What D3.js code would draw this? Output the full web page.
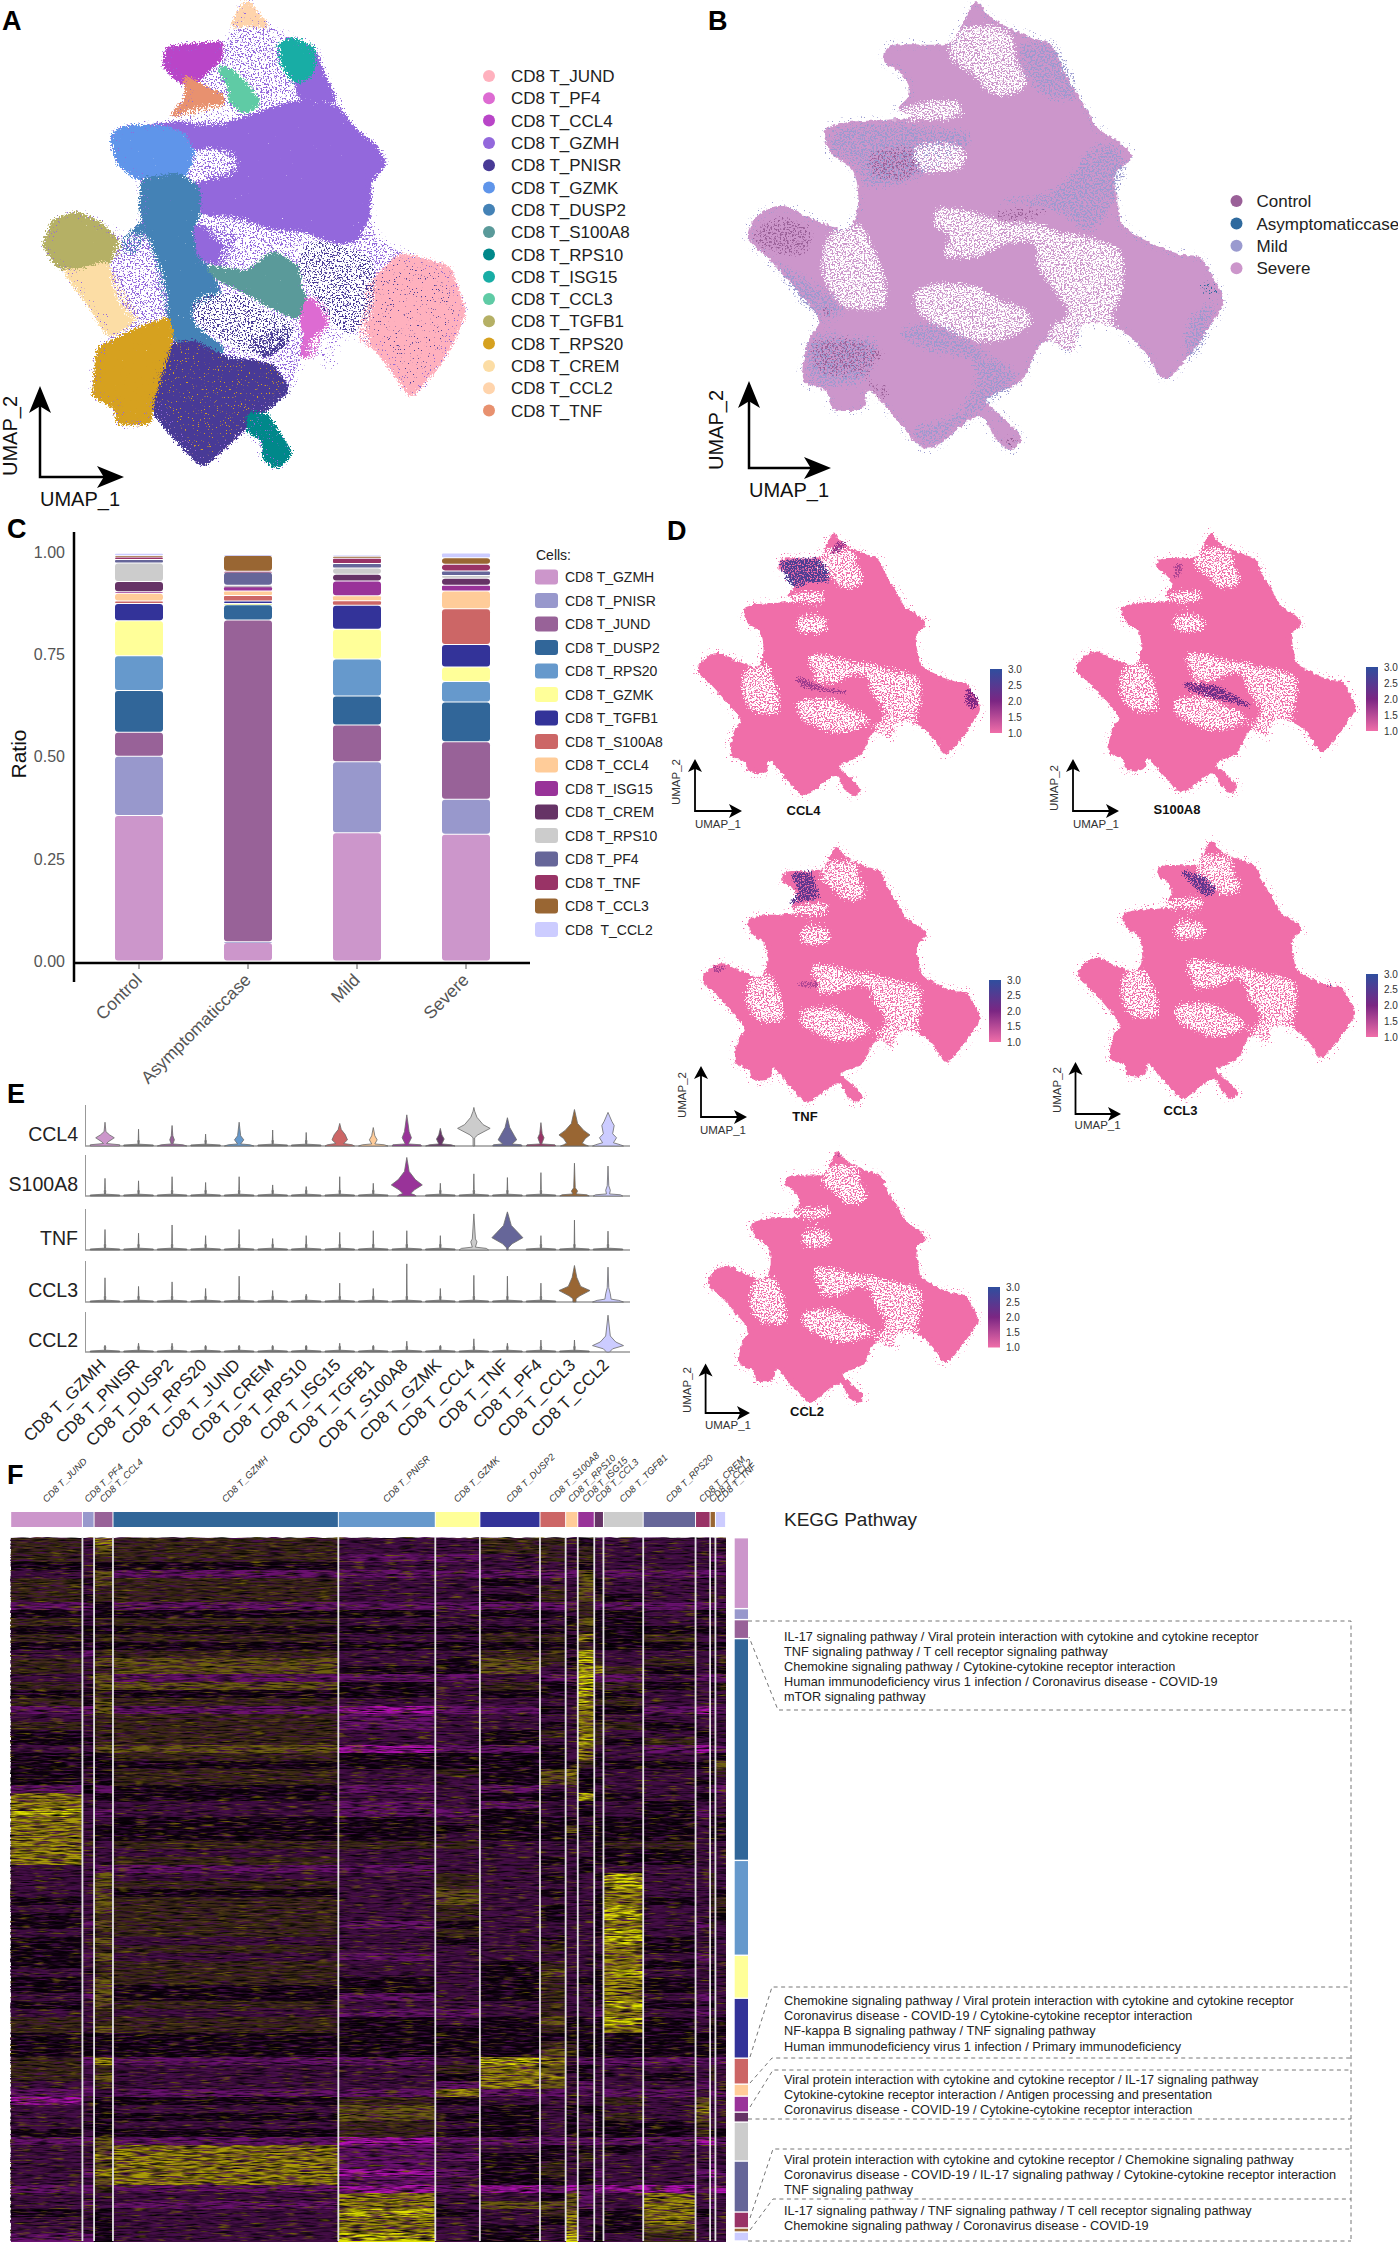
<!DOCTYPE html>
<html>
<head>
<meta charset="UTF-8">
<title>CD8 T cell atlas figure</title>
<script src="https://cdnjs.cloudflare.com/ajax/libs/d3/7.9.0/d3.min.js"></script>
<style>
    body { margin: 0; background: #fff; }
    text { font-family: "Liberation Sans", Arial, sans-serif; }
</style>
</head>
<body>
<div id="fig"></div>
<script>
// ---------- data ----------

// panel A/B/D embedding, outline and cluster regions in UMAP plot units
const umapOutline = [[552,10],[575,50],[610,85],[660,120],[700,145],[725,230],[760,320],[790,400],[830,440],[857,490],[825,540],[830,640],[840,700],[900,760],[950,790],[990,800],[1015,860],[1035,935],[1010,1010],[975,1090],[920,1175],[890,1110],[850,1040],[810,1010],[760,1010],[740,1090],[700,1060],[680,1065],[640,1180],[570,1240],[600,1290],[640,1360],[620,1395],[590,1360],[560,1290],[455,1390],[400,1310],[340,1210],[330,1265],[270,1265],[260,1215],[215,1180],[225,1050],[245,1000],[200,900],[150,810],[105,735],[125,670],[170,640],[230,680],[300,710],[320,640],[310,530],[270,480],[255,410],[290,385],[370,375],[420,365],[400,340],[420,300],[420,270],[400,225],[372,195],[380,150],[500,135],[520,95]];

const umapHoles = [
    [[530,90],[605,95],[625,140],[630,200],[650,260],[600,300],[575,280],[555,240],[520,200],[500,180],[505,130]],
    [[400,350],[500,315],[525,345],[505,368],[420,370]],
    [[430,470],[480,445],[525,470],[530,505],[490,535],[445,525]],
    [[480,650],[540,660],[600,690],[660,695],[700,720],[640,750],[600,760],[540,800],[490,790],[510,730],[470,700]],
    [[690,730],[770,740],[830,780],[840,860],[820,960],[780,1000],[740,960],[700,880],[670,800]],
    [[270,730],[320,700],[350,780],[375,900],[370,950],[300,950],[250,830]],
    [[430,920],[470,885],[550,890],[590,930],[640,960],[660,990],[620,1040],[560,1060],[500,1020],[450,980]],
    [[715,1000],[810,1000],[830,1030],[760,1090],[700,1110],[690,1070]]
];

const umapNames = ["CD8 T_JUND","CD8 T_PF4","CD8 T_CCL4","CD8 T_GZMH","CD8 T_PNISR","CD8 T_GZMK","CD8 T_DUSP2","CD8 T_S100A8","CD8 T_RPS10","CD8 T_ISG15","CD8 T_CCL3","CD8 T_TGFB1","CD8 T_RPS20","CD8 T_CREM","CD8 T_CCL2","CD8 T_TNF"];
const umapColors = ["#ffb1be","#dd6bd2","#b945c8","#9368dc","#483a96","#5f95ea","#4482b6","#5a9a9a","#00888a","#18ada5","#5fcba5","#b5b065","#d6a11f","#fcdda5","#ffd4ac","#e8916f"];

const jundShape = [[825,860],[900,765],[960,785],[1005,805],[1040,935],[1015,1015],[980,1095],[920,1185],[885,1115],[845,1045],[805,1015],[820,930]];
const pf4Shape = [[690,895],[725,915],[735,960],[715,1000],[705,1065],[675,1070],[685,1000],[675,960]];
const ccl4Shape = [[367,195],[375,145],[430,135],[500,130],[495,172],[455,218],[432,260],[400,238]];
const gzmhShape = [[300,385],[420,365],[520,370],[640,315],[700,300],[755,325],[795,395],[835,435],[862,490],[830,535],[825,640],[800,715],[760,730],[690,695],[600,685],[540,655],[480,645],[435,625],[435,560],[520,515],[535,470],[480,445],[420,445],[410,400],[350,400]];
const gzmhLobe = [[430,675],[525,715],[505,795],[435,775]];
const gzmhBand = [[700,145],[725,230],[750,305],[680,305],[660,240],[690,200]];
const pnisrShape = [[380,1035],[430,1025],[500,1075],[560,1085],[605,1095],[645,1170],[575,1245],[455,1395],[395,1315],[335,1215],[345,1120]];
const pnisrWing = [[555,1030],[640,985],[645,1020],[595,1065]];
const gzmkShape = [[250,410],[285,380],[360,380],[410,405],[435,470],[405,535],[340,535],[310,535],[265,485]];
const dusp2Shape = [[320,540],[400,525],[445,570],[445,640],[425,690],[440,780],[470,810],[490,880],[440,910],[420,950],[440,990],[500,1050],[480,1070],[420,1050],[385,1010],[370,900],[350,780],[325,680],[315,620]];
const dusp2Bridge = [[270,740],[320,670],[340,690],[290,760]];
const s100a8Shape = [[465,800],[560,820],[610,755],[670,810],[670,870],[700,935],[660,950],[590,905],[550,870],[490,835]];
const rps10Shape = [[560,1240],[595,1245],[625,1310],[650,1360],[620,1400],[590,1370],[595,1320],[555,1290]];
const isg15Shape = [[620,140],[655,118],[700,145],[705,180],[695,225],[665,245],[630,200]];
const ccl3Shape = [[490,200],[525,220],[560,270],[580,310],[550,335],[515,300],[515,255]];
const tgfb1Shape = [[100,735],[120,665],[170,640],[225,675],[270,740],[235,795],[180,825],[130,795]];
const rps20Shape = [[220,1050],[300,995],[375,955],[385,1010],[355,1130],[340,1210],[335,1270],[265,1270],[260,1220],[210,1185]];
const cremShape = [[145,810],[180,815],[235,790],[275,880],[305,950],[260,995],[245,1005],[195,900]];
const ccl2Shape = [[552,5],[577,50],[600,80],[550,70],[520,80]];
const tnfShape = [[415,230],[450,262],[495,288],[500,308],[440,335],[385,347],[420,300]];

const clusterShapes = [
    [jundShape, 0], [gzmhShape, 3], [gzmhLobe, 3], [gzmhBand, 3], [gzmkShape, 5], [dusp2Shape, 6], [dusp2Bridge, 6],
    [s100a8Shape, 7], [pf4Shape, 1], [ccl4Shape, 2], [pnisrShape, 4], [pnisrWing, 4], [rps10Shape, 8],
    [isg15Shape, 9], [ccl3Shape, 10], [tgfb1Shape, 11], [rps20Shape, 12], [cremShape, 13], [ccl2Shape, 14], [tnfShape, 15]
];

// panel B
const conditionNames = ["Control","Asymptomaticcase","Mild","Severe"];
const conditionColors = ["#9a6098","#2f6a9e","#9a9acf","#cc96cb"];
const mildRegions = [
    [[630,144],[700,134],[753,313],[692,313],[649,241]],
    [[259,412],[359,376],[498,396],[550,417],[481,520],[341,592],[306,499],[271,489]],
    [[577,623],[708,582],[795,437],[847,489],[812,664],[777,726],[708,664]],
    [[394,1035],[473,994],[578,1097],[639,1169],[525,1313],[456,1390],[421,1323],[508,1282],[551,1138],[464,1097]],
    [[216,1169],[272,1210],[342,1169],[360,1055],[299,1035],[229,1045]],
    [[953,1035],[1005,932],[1022,932],[996,1076],[961,1128]],
    [[150,810],[240,880],[300,960],[250,990]]
];
const controlRegions = [
    [[569,672],[621,641],[708,651],[656,692],[613,697]],
    [[350,464],[429,454],[446,536],[376,577],[333,515]],
    [[229,1055],[325,1045],[377,1096],[351,1148],[264,1179],[225,1127]],
    [[332,1189],[385,1189],[385,1241],[359,1241]],
    [[107,741],[159,664],[238,716],[220,798],[159,798]],
    [[603,1344],[642,1354],[629,1395],[594,1375]],
    [[240,931],[283,962],[266,993],[244,983]]
];
const asymptomaticRegions = [[[1000,862],[1035,903],[1026,934],[982,903]]];

// panel C, stacked ratio per condition
const stackNames = ["CD8 T_GZMH","CD8 T_PNISR","CD8 T_JUND","CD8 T_DUSP2","CD8 T_RPS20","CD8 T_GZMK","CD8 T_TGFB1","CD8 T_S100A8","CD8 T_CCL4","CD8 T_ISG15","CD8 T_CREM","CD8 T_RPS10","CD8 T_PF4","CD8 T_TNF","CD8 T_CCL3","CD8\u00a0 T_CCL2"];
const stackColors = ["#cc96cb","#9898cc","#986298","#316699","#6699cc","#ffff99","#333399","#cc6666","#ffcc99","#993399","#663366","#cccccc","#666699","#993366","#996633","#ccccff"];
const controlRatio = [.356,.145,.059,.102,.085,.086,.042,.006,.019,.004,.025,.045,.009,.006,.003,.006];
const asymptomaticRatio = [.045,.002,.788,.037,.002,.001,.006,.014,.011,.010,.002,.002,.032,.002,.039,.002];
const mildRatio = [.314,.174,.090,.071,.090,.073,.059,.011,.012,.036,.017,.015,.011,.013,.005,.003];
const severeRatio = [.310,.086,.141,.097,.050,.036,.055,.087,.044,.014,.017,.007,.011,.016,.016,.012];
const ratioTable = [controlRatio, asymptomaticRatio, mildRatio, severeRatio];
const ratioTicks = [0, .25, .5, .75, 1];

// panel D, expression hot spots as [value, region]
const featureGenes = ["CCL4","S100A8","TNF","CCL3","CCL2"];
const ccl4Hot = [
    [2.6, [[376,155],[492,136],[531,202],[539,268],[461,268],[438,296],[399,258]]],
    [1.8, [[570,52],[601,61],[539,127]]],
    [1.7, [[428,763],[521,829],[598,838],[583,856],[475,829],[436,800]]],
    [2.0, [[995,820],[1030,900],[1015,940],[985,890]]]
];
const s100a8Hot = [
    [2.2, [[458,804],[568,823],[693,938],[615,909],[489,852]]],
    [1.6, [[431,175],[462,175],[431,260]]]
];
const tnfHot = [
    [2.4, [[402,151],[465,142],[497,283],[386,321],[433,264]]],
    [1.6, [[133,660],[188,650],[148,690]]],
    [1.6, [[425,745],[497,736],[481,775],[433,766]]]
];
const ccl3Hot = [
    [2.4, [[450,170],[521,198],[568,274],[536,311],[489,236]]],
    [2.6, [[936,778],[967,788],[944,797]]]
];
const ccl2Hot = [
    [1.4, [[552,10],[565,45],[540,45]]]
];
const featureHot = [ccl4Hot, s100a8Hot, tnfHot, ccl3Hot, ccl2Hot];
const colorbarTicks = [1, 1.5, 2, 2.5, 3];

// panel E, violin tops per cluster for each gene
const violinClusters = ["CD8 T_GZMH","CD8 T_PNISR","CD8 T_DUSP2","CD8 T_RPS20","CD8 T_JUND","CD8 T_CREM","CD8 T_RPS10","CD8 T_ISG15","CD8 T_TGFB1","CD8 T_S100A8","CD8 T_GZMK","CD8 T_CCL4","CD8 T_TNF","CD8 T_PF4","CD8 T_CCL3","CD8 T_CCL2"];
const violinGenes = ["CCL4","S100A8","TNF","CCL3","CCL2"];
const ccl4Tops = [.58,.41,.50,.29,.58,.39,.33,.55,.45,.76,.43,.94,.69,.57,.89,.82];
const s100a8Tops = [.43,.37,.47,.33,.47,.27,.23,.47,.31,.94,.31,.54,.45,.57,.80,.73];
const tnfTops = [.5,.41,.61,.35,.5,.28,.35,.43,.47,.47,.35,.88,.93,.35,.73,.46];
const ccl3Tops = [.59,.38,.49,.33,.63,.28,.19,.46,.33,.93,.33,.65,.63,.46,.89,.85];
const ccl2Tops = [.16,.22,.22,.16,.16,.16,.05,.22,.16,.27,.16,.33,.22,.3,.3,.92];
const violinTops = [ccl4Tops, s100a8Tops, tnfTops, ccl3Tops, ccl2Tops];
// density profiles [expression, half width] for the violins that are more than a spike
const ccl4Bodies = {
    0: [[0,.95],[.03,.95],[.06,.1],[.1,.2],[.2,.6],[.27,.3],[.35,.06],[.58,0]],
    2: [[0,.95],[.03,.7],[.05,.05],[.15,.15],[.25,.05],[.5,0]],
    4: [[0,.95],[.03,.7],[.05,.1],[.15,.3],[.25,.1],[.58,0]],
    7: [[0,.95],[.03,.8],[.06,.25],[.15,.5],[.28,.35],[.4,.1],[.55,0]],
    8: [[0,.95],[.03,.7],[.05,.1],[.15,.25],[.25,.1],[.45,0]],
    9: [[0,.95],[.03,.9],[.05,.1],[.2,.3],[.35,.15],[.76,0]],
    10: [[0,.95],[.03,.7],[.05,.1],[.17,.25],[.27,.1],[.43,0]],
    11: [[0,.05],[.2,.05],[.27,.25],[.43,1.05],[.52,.6],[.7,.2],[.85,.05],[.94,0]],
    12: [[0,.95],[.03,.9],[.05,.3],[.15,.6],[.25,.45],[.45,.15],[.69,0]],
    13: [[0,.95],[.03,.9],[.05,.05],[.2,.2],[.3,.08],[.57,0]],
    14: [[0,.9],[.03,.7],[.07,.5],[.18,.7],[.27,1],[.38,.6],[.55,.2],[.89,0]],
    15: [[0,1],[.03,.8],[.08,.35],[.2,.55],[.3,.3],[.5,.4],[.6,.25],[.82,0]]
};
const s100a8Bodies = {
    9: [[0,.6],[.03,.5],[.06,.25],[.15,.5],[.27,1],[.4,.55],[.6,.15],[.94,0]],
    14: [[0,.95],[.03,.8],[.05,.1],[.12,.2],[.2,.05],[.8,0]],
    15: [[0,.95],[.03,.8],[.05,.1],[.14,.15],[.25,.05],[.73,0]]
};
const tnfBodies = {
    11: [[0,.95],[.04,.8],[.07,.1],[.2,.2],[.27,.1],[.88,0]],
    12: [[0,.05],[.05,.05],[.15,.3],[.3,1],[.42,.7],[.6,.25],[.93,0]]
};
const ccl3Bodies = {
    14: [[0,.1],[.08,.1],[.15,.35],[.28,1],[.38,.4],[.6,.15],[.89,0]],
    15: [[0,1],[.04,.7],[.07,.2],[.2,.15],[.35,.05],[.85,0]]
};
const ccl2Bodies = {
    15: [[0,.1],[.08,.3],[.16,1],[.25,.5],[.4,.15],[.92,0]]
};
const violinBodies = [ccl4Bodies, s100a8Bodies, tnfBodies, ccl3Bodies, ccl2Bodies];

// panel F, heatmap
const heatClusters = ["CD8 T_JUND","CD8 T_PF4","CD8 T_CCL4","CD8 T_GZMH","CD8 T_PNISR","CD8 T_GZMK","CD8 T_DUSP2","CD8 T_S100A8","CD8 T_RPS10","CD8 T_ISG15","CD8 T_CCL3","CD8 T_TGFB1","CD8 T_RPS20","CD8 T_CREM","CD8 T_CCL2","CD8 T_TNF"];
const heatCellCounts = [148,24,39,465,200,92,124,53,25,34,19,82,108,30,11,21];
const heatGeneCounts = [71,11,19,222,95,43,60,26,12,16,10,39,51,16,4,9];
// one string per block of genes, one digit per cell cluster: 0 magenta, 4 black, 8 yellow
const heatLevels = [
"5375 3355 3433 3333","5365 3355 3533 3333","5355 2235 3533 3322","4344 3333 3433 3343",
"3362 2222 2632 2222","5465 3343 3643 3343","5355 3335 3643 3333","5455 3345 3654 3353",
"2242 2222 2522 2222","4344 4344 3544 3444","5355 3333 4644 3333","4444 4444 3544 4444",
"5455 3355 4744 5353","4444 4444 4544 4444","3255 3355 3833 3333","5366 3465 4853 5343",
"5356 4463 3875 4344","3362 2232 2822 3222","5366 4354 4855 4344","4454 4344 3844 3343",
"5465 3333 3855 3333","2262 1224 3744 2122","3355 2333 3743 3333","5355 2334 3755 4333",
"4355 3345 3753 3433","4455 3343 3854 5343","3366 1224 3733 2122","4445 4444 3743 3344",
"4444 4444 4544 4446","4345 3546 7433 3345","4345 3346 6443 3443","2424 2323 3433 3322",
"7344 3344 3844 3443","7333 2323 3433 4333","8323 2243 3433 4233","7334 4344 4344 4344",
"7344 4444 6444 4344","7344 4344 4444 4344","7335 5533 3345 5333","7333 3333 3344 4333",
"7335 3334 3444 4333","3322 2333 3433 3333","3363 3534 3348 3353","3365 3533 3338 3353",
"3364 3634 3347 3354","4365 3633 3347 4355","3365 3534 3348 3355","4355 3534 3348 3344",
"4265 2433 3347 3253","3355 3533 3348 3333","4363 3434 3338 4343","4355 3335 3337 4343",
"4263 2333 3347 3233","4355 3345 3337 4343","3355 3346 3348 3343","4365 4345 3447 4343",
"4364 4345 3347 4343","3264 2345 3347 3233","4365 3335 3338 4343","3353 2235 3327 3233",
"5355 4346 4448 4354","5365 4445 4447 4344","4444 4444 4444 4444","4444 4445 5444 4444",
"4444 4446 5444 4444","5272 2387 3232 2222","5353 3576 4433 3353","5363 3477 3433 4353",
"3253 3276 3233 3233","2232 2722 3232 2322","1344 5433 3335 3633","3343 6343 4443 3733",
"3344 6443 4345 3633","3443 5343 4344 4533","4344 5443 4444 4544","2262 1222 2222 2112",
"3367 2334 3434 3333","3377 2244 3533 3323","3367 2345 3333 3323","3277 1245 3423 3212",
"3367 2344 3433 3323","2252 1212 1211 1211","3333 7334 6233 7323","3232 7366 6233 7323",
"4343 8435 7434 7433","3343 7334 7334 7333","3343 7343 7344 6333","2243 8343 8343 5333"
];

const keggBlockA = ["IL-17 signaling pathway / Viral protein interaction with cytokine and cytokine receptor","TNF signaling pathway / T cell receptor signaling pathway","Chemokine signaling pathway / Cytokine-cytokine receptor interaction","Human immunodeficiency virus 1 infection / Coronavirus disease - COVID-19","mTOR signaling pathway"];
const keggBlockB = ["Chemokine signaling pathway / Viral protein interaction with cytokine and cytokine receptor","Coronavirus disease - COVID-19 / Cytokine-cytokine receptor interaction","NF-kappa B signaling pathway / TNF signaling pathway","Human immunodeficiency virus 1 infection / Primary immunodeficiency"];
const keggBlockC = ["Viral protein interaction with cytokine and cytokine receptor / IL-17 signaling pathway","Cytokine-cytokine receptor interaction / Antigen processing and presentation","Coronavirus disease - COVID-19 / Cytokine-cytokine receptor interaction"];
const keggBlockD = ["Viral protein interaction with cytokine and cytokine receptor / Chemokine signaling pathway","Coronavirus disease - COVID-19 / IL-17 signaling pathway / Cytokine-cytokine receptor interaction","TNF signaling pathway"];
const keggBlockE = ["IL-17 signaling pathway / TNF signaling pathway / T cell receptor signaling pathway","Chemokine signaling pathway / Coronavirus disease - COVID-19"];

// ---------- svg setup ----------
const svg = d3.select("#fig").append("svg")
    .attr("width", 1398)
    .attr("height", 2242)
    .style("display", "block");
const defs = svg.append("defs");

// sparse point grain, plain threshold of the noise
function addGrainFilter(id, freq, slope, intercept, seed) {
    const f = defs.append("filter").attr("id", id)
        .attr("x", "-6%").attr("y", "-6%").attr("width", "112%").attr("height", "112%")
        .attr("color-interpolation-filters", "sRGB");
    f.append("feTurbulence").attr("type", "fractalNoise").attr("baseFrequency", freq)
        .attr("numOctaves", 2).attr("seed", seed).attr("result", "noise");
    f.append("feColorMatrix").attr("in", "noise").attr("type", "matrix")
        .attr("values", `0 0 0 0 1 0 0 0 0 1 0 0 0 0 1 ${slope} 0 0 0 ${intercept}`)
        .attr("result", "mask");
    f.append("feComposite").attr("in", "SourceGraphic").attr("in2", "mask").attr("operator", "in");
}
addGrainFilter("dotGrain", 0.62, 14, -7.6, 6);
addGrainFilter("sparseGrain", 0.75, 14, -9.6, 8);

// region that dissolves into points towards its edge: blurred shape + noise, thresholded
function addDissolveFilter(id, blur, spread, freq, level, seed) {
    const f = defs.append("filter").attr("id", id)
        .attr("x", "-25%").attr("y", "-25%").attr("width", "150%").attr("height", "150%")
        .attr("color-interpolation-filters", "sRGB");
    f.append("feMorphology").attr("in", "SourceGraphic").attr("operator", "dilate").attr("radius", spread).attr("result", "wide");
    f.append("feGaussianBlur").attr("in", "wide").attr("stdDeviation", blur).attr("result", "soft");
    f.append("feTurbulence").attr("type", "fractalNoise").attr("baseFrequency", freq)
        .attr("numOctaves", 2).attr("seed", seed).attr("result", "noise");
    f.append("feColorMatrix").attr("in", "noise").attr("type", "matrix")
        .attr("values", "0 0 0 0 1 0 0 0 0 1 0 0 0 0 1 1 0 0 0 0").attr("result", "noiseAlpha");
    f.append("feComposite").attr("in", "soft").attr("in2", "noiseAlpha").attr("operator", "arithmetic")
        .attr("k1", 0).attr("k2", 1).attr("k3", 1).attr("k4", -1).attr("result", "sum");
    const t = f.append("feComponentTransfer").attr("in", "sum").attr("result", "mask");
    t.append("feFuncA").attr("type", "linear").attr("slope", 10).attr("intercept", -10 * level);
    f.append("feMorphology").attr("in", "SourceGraphic").attr("operator", "dilate").attr("radius", spread + 8).attr("result", "color");
    f.append("feComposite").attr("in", "color").attr("in2", "mask").attr("operator", "in");
}
addDissolveFilter("clusterFade", 3.5, 3, 0.6, 0.08, 2);
addDissolveFilter("mixFade", 7, 5, 0.55, 0.48, 5);
addDissolveFilter("controlFade", 6, 3, 0.55, 0.52, 14);
addDissolveFilter("holeFade", 4, 5, 0.62, 0.41, 11);
addDissolveFilter("hotFade", 2.5, 2.5, 0.7, 0.38, 9);

// rough outline of the whole cloud
const rf = defs.append("filter").attr("id", "roughEdge")
    .attr("x", "-4%").attr("y", "-4%").attr("width", "108%").attr("height", "108%")
    .attr("color-interpolation-filters", "sRGB");
rf.append("feTurbulence").attr("type", "fractalNoise").attr("baseFrequency", 0.3)
    .attr("numOctaves", 2).attr("seed", 3).attr("result", "noise");
rf.append("feDisplacementMap").attr("in", "SourceGraphic").attr("in2", "noise").attr("scale", 5)
    .attr("xChannelSelector", "R").attr("yChannelSelector", "G").attr("result", "moved");
rf.append("feGaussianBlur").attr("in", "moved").attr("stdDeviation", 0.5);

// fine texture over the heatmap blocks, streaks run along the genes
function addHeatTexture(id, color, slope, intercept, seed) {
    const f = defs.append("filter").attr("id", id)
        .attr("x", 0).attr("y", 0).attr("width", 1).attr("height", 1)
        .attr("color-interpolation-filters", "sRGB");
    f.append("feTurbulence").attr("type", "fractalNoise").attr("baseFrequency", "0.06 0.6")
        .attr("numOctaves", 2).attr("seed", seed);
    const c = d3.color(color);
    f.append("feColorMatrix").attr("type", "matrix")
        .attr("values", `0 0 0 0 ${c.r / 255} 0 0 0 0 ${c.g / 255} 0 0 0 0 ${c.b / 255} ${slope} 0 0 0 ${intercept}`);
}
addHeatTexture("heatCool", "#4a0f50", 3, -1.3, 47);
addHeatTexture("heatDark", "#000000", 2.5, -1.1, 21);
addHeatTexture("heatWarm", "#6e5e08", 3.5, -2.05, 33);

function panelLetter(t, x, y) {
    svg.append("text").attr("x", x).attr("y", y).text(t)
        .attr("font-size", 27).attr("font-weight", "bold").attr("fill", "#000");
}

// ---------- umap helpers ----------
function umapScales(x0, x1, y0, y1) {
    return {
        x: d3.scaleLinear().domain([105, 1035]).range([x0, x1]),
        y: d3.scaleLinear().domain([10, 1395]).range([y0, y1])
    };
}
function regionLine(s, curve) {
    return d3.line().x(d => s.x(d[0])).y(d => s.y(d[1])).curve(curve);
}
function drawRegions(g, regions, fill, s, filterId, curve) {
    g.append("g").attr("filter", `url(#${filterId})`)
        .selectAll("path").data(regions).join("path")
        .attr("d", regionLine(s, curve || d3.curveCatmullRomClosed.alpha(0.5))).attr("fill", fill);
}
// thin halo of stray points round the cloud
function drawHalo(g, color, s) {
    g.append("path").datum(umapOutline).attr("d", regionLine(s, d3.curveCatmullRomClosed.alpha(0.5)))
        .attr("fill", "none").attr("stroke", color).attr("stroke-width", 12)
        .attr("filter", "url(#sparseGrain)");
}
function umapArrows(g, o) {
    const stroke = o.big ? 2.5 : 1.8;
    const hl = o.big ? 27 : 13;
    const hw = o.big ? 11 : 7;
    g.append("path")
        .attr("d", `M${o.x},${o.top + 6}V${o.y}H${o.right - 6}`)
        .attr("fill", "none").attr("stroke", "#000").attr("stroke-width", stroke);
    g.append("path").attr("fill", "#000")
        .attr("d", `M${o.x},${o.top}L${o.x + hw},${o.top + hl}L${o.x},${o.top + hl * .75}L${o.x - hw},${o.top + hl}Z`);
    g.append("path").attr("fill", "#000")
        .attr("d", `M${o.right},${o.y}L${o.right - hl},${o.y - hw}L${o.right - hl * .75},${o.y}L${o.right - hl},${o.y + hw}Z`);
    g.append("text").attr("text-anchor", "middle").attr("dominant-baseline", "middle")
        .attr("transform", `translate(${o.lab2x},${o.lab2y}) rotate(-90)`)
        .attr("font-size", o.size).attr("fill", o.big ? "#111" : "#333").text("UMAP_2");
    g.append("text").attr("text-anchor", "middle").attr("dominant-baseline", "middle")
        .attr("x", o.lab1x).attr("y", o.lab1y)
        .attr("font-size", o.size).attr("fill", o.big ? "#111" : "#333").text("UMAP_1");
}

// ---------- panel A ----------
panelLetter("A", 2, 30);
const gA = svg.append("g");
const sA = umapScales(47, 462, 3.3, 465);
drawRegions(gA, [umapOutline], umapColors[3], sA, "dotGrain");
clusterShapes.forEach(c => {
    drawRegions(gA, [c[0]], umapColors[c[1]], sA, "clusterFade", d3.curveLinearClosed);
});
drawRegions(gA, umapHoles, "#fff", sA, "holeFade");
drawRegions(gA, [umapHoles[4], umapHoles[6], pnisrWing], umapColors[4], sA, "dotGrain");
drawRegions(gA, [jundShape, pnisrShape], umapColors[4], sA, "sparseGrain");
drawRegions(gA, [pnisrShape, rps20Shape], umapColors[12], sA, "sparseGrain");
drawRegions(gA, [umapHoles[0], umapHoles[2], umapHoles[3], umapHoles[5]], umapColors[3], sA, "dotGrain");
drawHalo(gA, umapColors[3], sA);
umapArrows(gA, {x: 40, y: 477, top: 386, right: 124, big: true, size: 20, lab2x: 12, lab2y: 436, lab1x: 80, lab1y: 501});

const legA = svg.append("g").selectAll("g").data(umapNames).join("g")
    .attr("transform", (d, i) => `translate(489,${76 + i * 22.3})`);
legA.append("circle").attr("r", 6).attr("fill", (d, i) => umapColors[i]);
legA.append("text").attr("x", 22).attr("dy", "0.36em").attr("font-size", 17).attr("fill", "#222").text(d => d);

// ---------- panel B ----------
panelLetter("B", 708, 30);
const gB = svg.append("g");
const sB = umapScales(748, 1223, 2, 450);
drawRegions(gB, [umapOutline], conditionColors[3], sB, "roughEdge");
drawRegions(gB, mildRegions, conditionColors[2], sB, "mixFade");
drawRegions(gB, controlRegions, conditionColors[0], sB, "controlFade");
drawRegions(gB, asymptomaticRegions, conditionColors[1], sB, "controlFade");
drawRegions(gB, umapHoles, "#fff", sB, "holeFade");
drawHalo(gB, conditionColors[2], sB);
umapArrows(gB, {x: 749, y: 468, top: 381, right: 831, big: true, size: 20, lab2x: 718, lab2y: 430, lab1x: 789, lab1y: 492});

const legB = svg.append("g").selectAll("g").data(conditionNames).join("g")
    .attr("transform", (d, i) => `translate(1236.5,${201 + i * 22.4})`);
legB.append("circle").attr("r", 6).attr("fill", (d, i) => conditionColors[i]);
legB.append("text").attr("x", 20).attr("dy", "0.36em").attr("font-size", 17).attr("fill", "#222").text(d => d);

// ---------- panel C ----------
panelLetter("C", 7, 538);
const gC = svg.append("g");
const yRatio = d3.scaleLinear().domain([0, 1]).range([961, 552.5]);
const xCond = d3.scalePoint().domain(conditionNames).range([139, 466]);
const stackCols = d3.stack().keys(d3.range(16)).value((d, k) => d[k])(ratioTable);

stackCols.forEach((layer, k) => {
    gC.append("g").selectAll("rect").data(layer).join("rect")
        .attr("x", (d, i) => xCond(conditionNames[i]) - 24)
        .attr("width", 48)
        .attr("y", d => yRatio(d[1]) + .5)
        .attr("height", d => Math.max(yRatio(d[0]) - yRatio(d[1]) - 1, .8))
        .attr("rx", d => (yRatio(d[0]) - yRatio(d[1]) > 6 ? 3 : 1))
        .attr("fill", stackColors[k]);
});
const yAxisC = d3.axisLeft(yRatio).tickValues(ratioTicks).tickFormat(d3.format(".2f")).tickSize(4);
const gyC = gC.append("g").attr("transform", "translate(74,0)").call(yAxisC);
gyC.select(".domain").remove();
gyC.selectAll("text").attr("font-size", 16).attr("fill", "#555").attr("x", -9);
gyC.selectAll("line").attr("stroke", "#fff");
gC.append("line").attr("x1", 74).attr("x2", 74).attr("y1", 532).attr("y2", 982).attr("stroke", "#000").attr("stroke-width", 2.5);
gC.append("line").attr("x1", 74).attr("x2", 530).attr("y1", 963).attr("y2", 963).attr("stroke", "#000").attr("stroke-width", 2.5);
conditionNames.forEach(c => {
    gC.append("line").attr("x1", xCond(c)).attr("x2", xCond(c)).attr("y1", 964).attr("y2", 969).attr("stroke", "#555");
    gC.append("text").text(c).attr("text-anchor", "end")
        .attr("transform", `translate(${xCond(c) + 4},981) rotate(-45)`)
        .attr("font-size", 17.5).attr("fill", "#555");
});
gC.append("text").text("Ratio").attr("text-anchor", "middle")
    .attr("transform", "translate(26,754) rotate(-90)").attr("font-size", 21).attr("fill", "#111");
gC.append("text").text("Cells:").attr("x", 536).attr("y", 560).attr("font-size", 14).attr("fill", "#222");
const legC = gC.append("g").selectAll("g").data(stackNames).join("g")
    .attr("transform", (d, i) => `translate(535,${577 + i * 23.5})`);
legC.append("rect").attr("y", -7.5).attr("width", 23).attr("height", 15).attr("rx", 3).attr("fill", (d, i) => stackColors[i]);
legC.append("text").attr("x", 30).attr("dy", "0.36em").attr("font-size", 14).attr("fill", "#222").text(d => d);

// ---------- panel D ----------
panelLetter("D", 667, 540);
const exprColor = d3.scaleLinear().domain([1, 2, 3]).range(["#f06ea9", "#7b2683", "#2f4e9e"]);
const barGrad = defs.append("linearGradient").attr("id", "exprGrad")
    .attr("x1", 0).attr("x2", 0).attr("y1", 1).attr("y2", 0);
colorbarTicks.forEach(v => {
    barGrad.append("stop").attr("offset", (v - 1) / 2).attr("stop-color", exprColor(v));
});

const featureLayout = [
    {x0: 698, x1: 980, y0: 533.6, y1: 796, arrow: {x: 695, y: 811, top: 759, right: 742, lab2x: 677, lab2y: 782, lab1x: 718, lab1y: 825}, label: [803.5, 812], bar: [990, 669, 733]},
    {x0: 1076.5, x1: 1355.5, y0: 533.6, y1: 793, arrow: {x: 1073, y: 811, top: 759, right: 1119, lab2x: 1055, lab2y: 788, lab1x: 1096, lab1y: 825}, label: [1177, 811], bar: [1366, 667, 731]},
    {x0: 703, x1: 980, y0: 847, y1: 1102.6, arrow: {x: 701, y: 1117, top: 1066, right: 747, lab2x: 682.6, lab2y: 1095, lab1x: 723, lab1y: 1130.5}, label: [805, 1118], bar: [989, 980, 1042]},
    {x0: 1078, x1: 1355, y0: 840.7, y1: 1098.8, arrow: {x: 1075.5, y: 1114, top: 1062, right: 1121, lab2x: 1057.6, lab2y: 1090, lab1x: 1097.6, lab1y: 1126}, label: [1180.5, 1112], bar: [1366, 974, 1037]},
    {x0: 708, x1: 978, y0: 1151.6, y1: 1403, arrow: {x: 705.6, y: 1413, top: 1363.6, right: 750, lab2x: 688, lab2y: 1390, lab1x: 728, lab1y: 1426}, label: [807, 1413], bar: [988, 1287, 1347.5]}
];

featureGenes.forEach((gene, i) => {
    const lay = featureLayout[i];
    const g = svg.append("g");
    const s = umapScales(lay.x0, lay.x1, lay.y0, lay.y1);
    drawRegions(g, [umapOutline], exprColor(1), s, "roughEdge");
    drawRegions(g, umapHoles, "#fff", s, "holeFade");
    drawHalo(g, exprColor(1), s);
    featureHot[i].forEach(h => {
        drawRegions(g, [h[1]], exprColor(h[0]), s, "hotFade", d3.curveLinearClosed);
    });
    umapArrows(g, Object.assign({big: false, size: 11.5}, lay.arrow));
    g.append("text").text(gene).attr("text-anchor", "middle").attr("dominant-baseline", "middle")
        .attr("x", lay.label[0]).attr("y", lay.label[1])
        .attr("font-size", 13).attr("font-weight", "bold").attr("fill", "#111");
    g.append("rect").attr("x", lay.bar[0]).attr("y", lay.bar[1])
        .attr("width", 12).attr("height", lay.bar[2] - lay.bar[1]).attr("fill", "url(#exprGrad)");
    const yBar = d3.scaleLinear().domain([1, 3]).range([lay.bar[2], lay.bar[1]]);
    g.selectAll(".barTick").data(colorbarTicks).join("text")
        .attr("x", lay.bar[0] + 18).attr("y", d => yBar(d)).attr("dy", "0.36em")
        .attr("font-size", 10).attr("fill", "#333").text(d => d.toFixed(1));
});

// ---------- panel E ----------
panelLetter("E", 7, 1103);
const gE = svg.append("g");
const rowTop = [1105, 1155, 1209, 1261, 1312];
const rowBase = [1146, 1196, 1250, 1302, 1352];
const xViolin = d3.scalePoint().domain(violinClusters).range([105, 608]);
const wDensity = d3.scaleLinear().domain([0, 1]).range([0, 15.5]);

violinGenes.forEach((gene, r) => {
    const yV = d3.scaleLinear().domain([0, 1]).range([rowBase[r], rowTop[r]]);
    gE.append("line").attr("x1", 85.5).attr("x2", 85.5).attr("y1", rowTop[r]).attr("y2", rowBase[r]).attr("stroke", "#999");
    gE.append("line").attr("x1", 85).attr("x2", 630).attr("y1", rowBase[r]).attr("y2", rowBase[r]).attr("stroke", "#999").attr("stroke-width", 1.3);
    gE.append("text").text(gene).attr("text-anchor", "end").attr("dominant-baseline", "middle")
        .attr("x", 78).attr("y", rowBase[r] - 10).attr("font-size", 19.5).attr("fill", "#222");
    violinClusters.forEach((c, k) => {
        const cx = xViolin(c);
        const top = violinTops[r][k];
        const shaped = violinBodies[r][k];
        const body = shaped || [[0,.95],[.025,.95],[.045,.03],[.12,.05],[.16,.02],[top,0]];
        const area = d3.area()
            .x0(d => cx - wDensity(d[1])).x1(d => cx + wDensity(d[1]))
            .y(d => yV(d[0]));
        gE.append("path").attr("d", area(body))
            .attr("fill", shaped ? stackColors[k] : "#777").attr("stroke", "#6a6a6a").attr("stroke-width", .8);
    });
});
violinClusters.forEach(c => {
    gE.append("text").text(c).attr("text-anchor", "end")
        .attr("transform", `translate(${xViolin(c) + 2},1366) rotate(-45)`)
        .attr("font-size", 17).attr("fill", "#222");
});

// ---------- panel F ----------
panelLetter("F", 7, 1484);
const gF = svg.append("g");
const cellEdges = [0].concat(Array.from(d3.cumsum(heatCellCounts)));
const geneEdges = [0].concat(Array.from(d3.cumsum(heatGeneCounts)));
const xHeat = d3.scaleLinear().domain([0, d3.sum(heatCellCounts)]).range([10.7, 725.6]);
const ySide = d3.scaleLinear().domain([0, d3.sum(heatGeneCounts)]).range([1537.7, 2241]);
const yHeat = d3.scaleBand().domain(d3.range(heatLevels.length)).range([1537.7, 2241]);
const heatColor = d3.scaleLinear().domain([0, 1, 2, 3, 4, 5, 6, 7, 8])
    .range(["#ff00ff", "#b010b0", "#6a1070", "#3f0c40", "#0c000c", "#3a2a12", "#6e6010", "#a89a08", "#e0e000"]);

// cluster strip on top and its labels
gF.append("g").selectAll("rect").data(heatClusters).join("rect")
    .attr("x", (d, i) => xHeat(cellEdges[i]) + .5)
    .attr("width", (d, i) => xHeat(cellEdges[i + 1]) - xHeat(cellEdges[i]) - 1)
    .attr("y", 1512).attr("height", 15)
    .attr("fill", (d, i) => stackColors[i]);
heatClusters.forEach((c, i) => {
    const mid = (xHeat(cellEdges[i]) + xHeat(cellEdges[i + 1])) / 2;
    gF.append("text").text(c)
        .attr("transform", `translate(${mid},1503) rotate(-45)`)
        .attr("font-size", 9.5).attr("font-style", "italic").attr("fill", "#333");
});

// heat cells
const heatCells = gF.append("g").attr("shape-rendering", "crispEdges");
heatLevels.forEach((row, r) => {
    const digits = row.replace(/ /g, "");
    heatClusters.forEach((c, k) => {
        heatCells.append("rect")
            .attr("x", xHeat(cellEdges[k]))
            .attr("width", xHeat(cellEdges[k + 1]) - xHeat(cellEdges[k]))
            .attr("y", yHeat(r))
            .attr("height", yHeat.bandwidth() + .5)
            .attr("fill", heatColor(+digits[k]));
    });
});
["heatCool", "heatDark", "heatWarm"].forEach(id => {
    gF.append("rect").attr("x", 10.7).attr("y", 1537.7).attr("width", 715).attr("height", 703.3)
        .attr("filter", `url(#${id})`);
});
cellEdges.slice(1, -1).forEach(e => {
    gF.append("line").attr("x1", xHeat(e)).attr("x2", xHeat(e)).attr("y1", 1537).attr("y2", 2241)
        .attr("stroke", "#e6e6e6").attr("stroke-width", 1.8);
});

// gene strip at the right
gF.append("g").selectAll("rect").data(heatClusters).join("rect")
    .attr("x", 734.7).attr("width", 13.3)
    .attr("y", (d, i) => ySide(geneEdges[i]) + .7)
    .attr("height", (d, i) => Math.max(ySide(geneEdges[i + 1]) - ySide(geneEdges[i]) - 1.4, 2))
    .attr("fill", (d, i) => stackColors[i]);

gF.append("text").text("KEGG Pathway").attr("x", 784).attr("y", 1526).attr("font-size", 19).attr("fill", "#222");

// dashed call-outs from the strip to the pathway text
const calloutPaths = [
    "M748,1621H1351V1710H778L749,1637",
    "M1351,1710V2241",
    "M750,2057L772,1987H1351",
    "M750,2083L772,2058H1351",
    "M750,2107L773,2070H1351",
    "M748,2119H1351",
    "M750,2218L773,2149H1351",
    "M750,2230L773,2199H1351",
    "M748,2241H1351"
];
gF.selectAll(".callout").data(calloutPaths).join("path")
    .attr("d", d => d).attr("fill", "none").attr("stroke", "#666").attr("stroke-width", .9)
    .attr("stroke-dasharray", "4 3.5");

const keggBlocks = [[keggBlockA, 1640.5], [keggBlockB, 2005], [keggBlockC, 2084], [keggBlockD, 2164], [keggBlockE, 2215]];
keggBlocks.forEach(b => {
    gF.append("g").selectAll("text").data(b[0]).join("text")
        .attr("x", 784).attr("y", (d, i) => b[1] + i * 15.2)
        .attr("font-size", 12.7).attr("fill", "#222").text(d => d);
});
</script>
</body>
</html>
